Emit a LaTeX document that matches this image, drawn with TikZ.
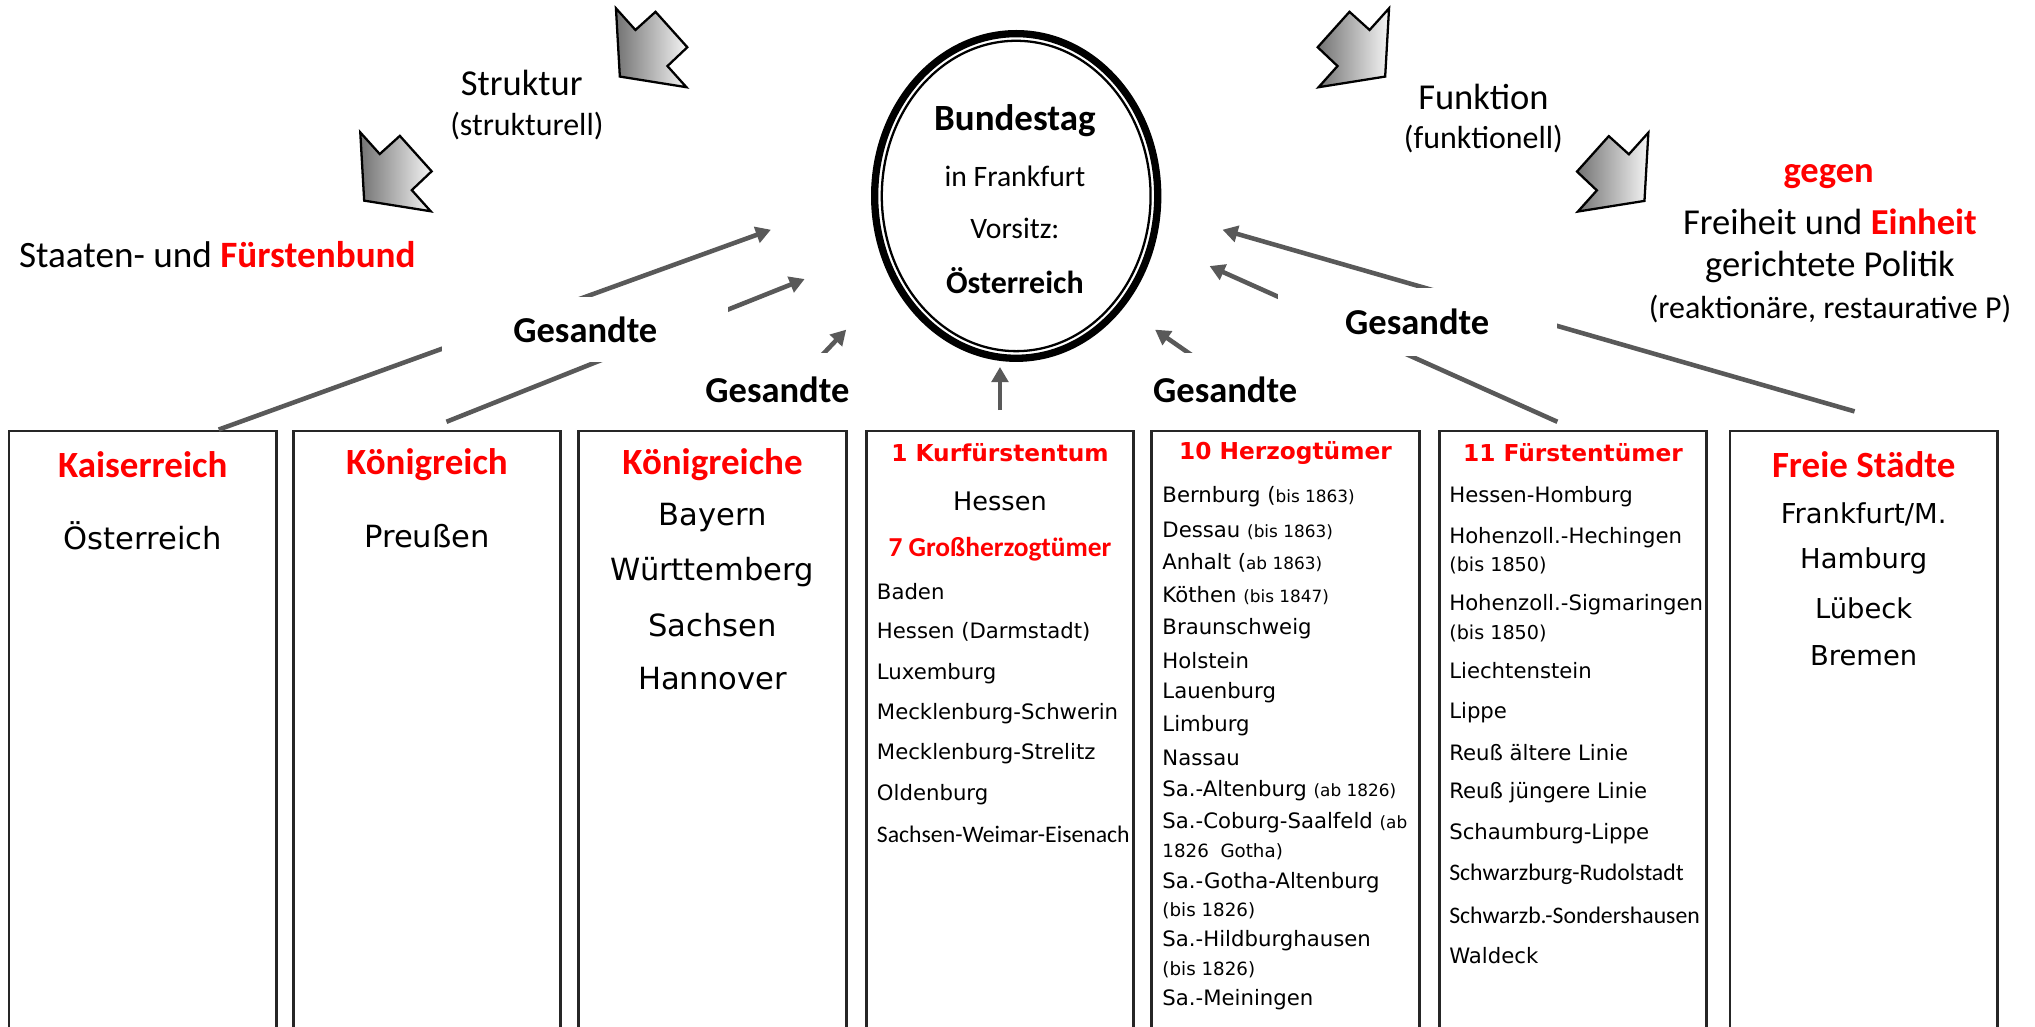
\documentclass[tikz,border=0pt]{standalone}
\usepackage{fontspec}
\setmainfont{Carlito}
\newfontfamily\verdfont{DejaVu Sans}
\usetikzlibrary{shapes.geometric,arrows.meta}

\newcommand{\fsz}[1]{\fontsize{#1}{#1}\selectfont}
\newcommand{\klein}{\fontsize{3.7}{3.7}\selectfont}

\begin{document}
\begin{tikzpicture}[x=0.01cm, y=-0.01cm,
    landbox/.style={draw=black!85, line width=0.6pt, anchor=north, minimum width=2.06cm, minimum height=5.3cm, inner sep=0pt},
    boxhead/.style={text=red, font=\fsz{8.1}\bfseries},
    smallhead/.style={text=red, font=\verdfont\fsz{5.1}\bfseries},
    bigland/.style={font=\verdfont\fsz{6.7}},
    item/.style={anchor=west, inner sep=0pt, font=\verdfont\fsz{4.65}},
    citem/.style={anchor=west, inner sep=0pt, font=\fsz{5.2}},
    titel/.style={font=\fsz{8}},
    untertitel/.style={font=\fsz{7}},
    gesandte/.style={fill=white, font=\fsz{8}\bfseries, minimum width=2.2cm, minimum height=0.5cm, inner sep=0pt},
    gesline/.style={draw=black!65, line width=1pt, -{Triangle[length=3.3pt,width=3.6pt]}},
    blockpfeil/.style={draw=black, line width=0.5pt, left color=black!55, right color=black!4},
    pics/wendepfeil/.style={code={\path[blockpfeil] (0,0) -- (15,16.7) -- (30.5,2.7) -- (55,30) -- (39.7,44.5) -- (54.3,60.8) -- (3,52.6) -- cycle;}},
    pics/wendepfeilr/.style={code={\path[blockpfeil] (0,0) -- (-15,16.7) -- (-30.5,2.7) -- (-55,30) -- (-39.7,44.5) -- (-54.3,60.8) -- (-3,52.6) -- cycle;}}
  ]
  \useasboundingbox (0,0) rectangle (1568,791);
  \clip (0,0) rectangle (1568,791);

  % Die Kaesten der Bundesglieder
  \foreach \n/\x in {kaiser/110, koenig/329, koenige/549, kurf/770.5, herzog/990.5, fuerst/1212, staedte/1436}
    \node[landbox] (\n) at (\x,331) {};

  % Ueberschriften
  \foreach \n/\t in {kaiser/Kaiserreich, koenig/Königreich, koenige/Königreiche, staedte/Freie Städte}
    \node[boxhead] (\n-head) at (\n.north |- 0,358) {\t};
  \foreach \n/\t in {kurf/1 Kurfürstentum, herzog/10 Herzogtümer, fuerst/11 Fürstentümer}
    \node[smallhead] (\n-head) at (\n.north |- 0,349) {\t};

  % Grossmaechte und Koenigreiche
  \node[bigland] (kaiser-1) at (kaiser.north |- 0,413) {Österreich};
  \node[bigland] (koenig-1) at (koenig.north |- 0,413) {Preußen};
  \foreach \y/\t [count=\i] in {399/Bayern, 441/Württemberg, 482/Sachsen, 523/Hannover}
    \node[bigland] (koenige-\i) at (koenige.north |- 0,\y) {\t};

  % Kurfuerstentum und Grossherzogtuemer
  \node[font=\verdfont\fsz{5.6}] (kurf-hessen) at (kurf.north |- 0,386) {Hessen};
  \node[text=red, font=\fsz{6}\bfseries] (kurf-gross) at (kurf.north |- 0,423) {7 Großherzogtümer};
  \foreach \y/\t [count=\i] in {456/Baden, 487/Hessen (Darmstadt), 519/Luxemburg, 550/Mecklenburg-Schwerin, 581/Mecklenburg-Strelitz, 612/Oldenburg}
    \node[item] (kurf-\i) at (675,\y) {\t};
  \node[citem] (kurf-7) at (675,643) {Sachsen-Weimar-Eisenach};

  % Herzogtuemer
  \foreach \y/\t [count=\i] in {383/Bernburg (\klein bis 1863), 409/Dessau {\klein(bis 1863)}, 434/Anhalt (\klein ab 1863),
      459/Köthen {\klein(bis 1847)}, 484/Braunschweig, 509/Holstein, 534/Lauenburg, 559/Limburg, 584/Nassau,
      609/Sa.-Altenburg {\klein(ab 1826)}, 634/Sa.-Coburg-Saalfeld {\klein(ab}, 656/{\fsz{4}1826~~Gotha)},
      680/Sa.-Gotha-Altenburg, 702/{\fsz{4}(bis 1826)}, 725/Sa.-Hildburghausen, 747/{\fsz{4}(bis 1826)}, 770/Sa.-Meiningen}
    \node[item] (herzog-\i) at (895,\y) {\t};

  % Fuerstentuemer
  \foreach \y/\t [count=\i] in {383/Hessen-Homburg, 414/Hohenzoll.-Hechingen, 436/{\fsz{4.2}(bis 1850)}, 466/Hohenzoll.-Sigmaringen,
      488/{\fsz{4.2}(bis 1850)}, 517/Liechtenstein, 549/Lippe, 580/Reuß ältere Linie, 611/Reuß jüngere Linie,
      642/Schaumburg-Lippe, 736/Waldeck}
    \node[item] (fuerst-\i) at (1116,\y) {\t};
  \node[citem] (fuerst-r) at (1116,674) {Schwarzburg-Rudolstadt};
  \node[citem] (fuerst-s) at (1116,705) {Schwarzb.-Sondershausen};

  % Freie Staedte
  \node[font=\verdfont\fsz{6}] (staedte-1) at (staedte.north |- 0,396) {Frankfurt/M.};
  \foreach \y/\t [count=\i from 2] in {432/Hamburg, 469/Lübeck, 505/Bremen}
    \node[font=\verdfont\fsz{6}] (staedte-\i) at (staedte.north |- 0,\y) {\t};

  % Der Bundestag
  \node[ellipse, draw, line width=1.6pt, minimum width=2.18cm, minimum height=2.5cm, inner sep=0pt] (bt) at (783,151) {};
  \draw[line width=0.5pt] (bt.center) ellipse [x radius=1.035cm, y radius=1.195cm];
  \node[font=\fsz{8.1}\bfseries] (bt-1) at (782,93) {Bundestag};
  \node[font=\fsz{6.5}] (bt-2) at (782,136) {in Frankfurt};
  \node[font=\fsz{6.5}] (bt-3) at (782,176) {Vorsitz:};
  \node[font=\fsz{7}\bfseries] (bt-4) at (782,216) {Österreich};

  % Gesandte zum Bundestag
  \coordinate (tip1) at (594,177);
  \coordinate (tip2) at (620,215);
  \coordinate (tip3) at (652,254);
  \coordinate (tip5) at (890,254);
  \coordinate (tip6) at (932,205);
  \coordinate (tip7) at (942,177);
  \draw[gesline] ([xshift=0.585cm]kaiser.north) -- (tip1);
  \draw[gesline] ([xshift=0.15cm,yshift=0.06cm]koenig.north) -- (tip2);
  \draw[gesline] ([xshift=0.35cm,yshift=0.05cm]koenige.north) -- (tip3);
  \draw[gesline, shorten >=1.1pt] ([yshift=0.15cm]kurf.north) -- (kurf.north |- bt.south);
  \draw[gesline] ([xshift=0.03cm,yshift=0.05cm]herzog.north) -- (tip5);
  \draw[gesline] ([xshift=-0.12cm,yshift=0.06cm]fuerst.north) -- (tip6);
  \draw[gesline] ([xshift=-0.07cm,yshift=0.14cm]staedte.north) -- (tip7);

  \node[gesandte] (ges1) at (451,254) {Gesandte};
  \node[gesandte, minimum height=0.56cm] (ges2) at (599,300) {Gesandte};
  \node[gesandte, minimum height=0.56cm] (ges3) at (944,300) {Gesandte};
  \node[gesandte, minimum width=2.15cm, minimum height=0.52cm] (ges4) at (1092,248) {Gesandte};

  % Struktur und Funktion
  \pic at (474.6,6.4) {wendepfeil};
  \pic at (277.6,102) {wendepfeil};
  \pic at (1070.3,6.4) {wendepfeilr};
  \pic at (1270.1,102.2) {wendepfeilr};

  \node[titel] (struktur) at (402,64) {Struktur};
  \node[untertitel] (struktur-2) at (406,97) {(strukturell)};
  \node[titel, anchor=west, inner sep=0pt, font=\fsz{8.15}] (bund) at (14,196) {Staaten- und \textcolor{red}{\bfseries Fürstenbund}};

  \node[titel] (funktion) at (1143,75) {Funktion};
  \node[untertitel] (funktion-2) at (1143,107) {(funktionell)};
  \node[titel, text=red, font=\fsz{8}\bfseries] (gegen) at (1409,136) {gegen};
  \node[titel] (politik-1) at (1410,171) {Freiheit und \textcolor{red}{\bfseries Einheit}};
  \node[titel] (politik-2) at (1410,206) {gerichtete Politik};
  \node[untertitel] (politik-3) at (1410,238) {(reaktionäre, restaurative P)};
\end{tikzpicture}
\end{document}
